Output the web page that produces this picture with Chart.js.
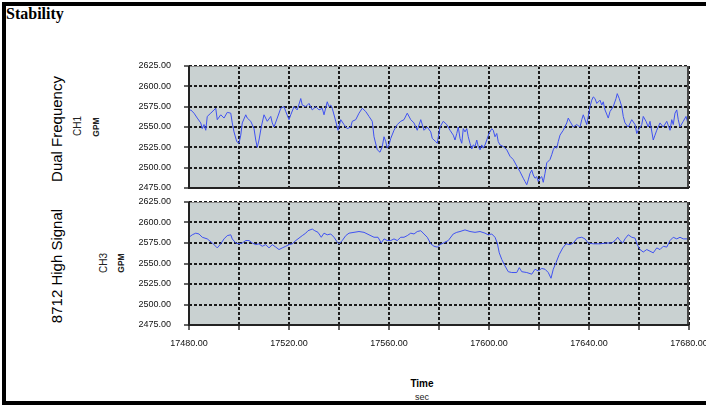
<!DOCTYPE html>
<html>
<head>
<meta charset="utf-8">
<title>Stability</title>
<script src="https://cdn.jsdelivr.net/npm/chart.js@4.4.0/dist/chart.umd.min.js"></script>
<style>
  html, body { margin: 0; padding: 0; background: #fff; overflow: hidden; }
  body { width: 706px; height: 405px; position: relative; font-family: "Liberation Sans", Arial, sans-serif; }
  #frame { position: absolute; left: 2px; top: 2px; width: 720px; height: 395px; border-left: 4px solid #000; border-top: 4px solid #000; border-bottom: 4px solid #000; }
  canvas { position: absolute; left: 0; }
  .lbl { position: absolute; white-space: nowrap; color: #000; }
  .rot { transform: translate(-50%, -50%) rotate(-90deg); }
  .ctr { transform: translate(-50%, -50%); }
</style>
</head>
<body>
<div id="frame"></div>
<div class="lbl" style="left:6px; top:5px; font-family:'Liberation Serif', serif; font-weight:bold; font-size:16px;">Stability</div>

<div class="lbl rot" style="left:56px; top:129px; font-size:15px;">Dual Frequency</div>
<div class="lbl rot" style="left:77px; top:126px; font-size:10px; color:#222;">CH1</div>
<div class="lbl rot" style="left:96px; top:127px; font-size:8.5px; font-weight:bold; color:#222;">GPM</div>

<div class="lbl rot" style="left:56px; top:266px; font-size:15px;">8712 High Signal</div>
<div class="lbl rot" style="left:103px; top:263px; font-size:10px; color:#222;">CH3</div>
<div class="lbl rot" style="left:121px; top:263px; font-size:8.5px; font-weight:bold; color:#222;">GPM</div>

<div class="lbl ctr" style="left:422px; top:383px; font-size:10px; font-weight:bold;">Time</div>
<div class="lbl ctr" style="left:422px; top:397px; font-size:9px; color:#222;">sec</div>

<canvas id="top" width="706" height="195" style="top:0px"></canvas>
<canvas id="bottom" width="706" height="175" style="top:195px"></canvas>

<script>
// time axis (sec)
var timeMin = 17480;
var timeMax = 17680;
var gpmMin = 2475;
var gpmMax = 2625;

// CH1 - Dual Frequency
var ch1Time = [
  17480, 17480.7, 17482, 17483.3, 17484.7, 17485.3, 17486, 17486.7, 17487.3, 17488.7,
  17490, 17490.7, 17491.3, 17492.7, 17494, 17495.3, 17496.7, 17497.3, 17498, 17499.1,
  17500, 17500.7, 17501.3, 17502.7, 17503.3, 17504.7, 17506, 17506.7, 17507.3, 17508,
  17508.9, 17510, 17511.3, 17512.7, 17513.3, 17514, 17515.3, 17516.7, 17518, 17518.7,
  17520, 17520.7, 17522, 17523.3, 17524.7, 17525.3, 17526.7, 17528, 17529.3, 17530.7,
  17532, 17533.3, 17534, 17535.3, 17536, 17536.7, 17537.3, 17538.7, 17539.6, 17540.7,
  17542, 17543.3, 17544.7, 17545.3, 17546.7, 17548, 17549.3, 17550.7, 17552, 17553.3,
  17554, 17555.3, 17556.4, 17557.3, 17558, 17558.7, 17559.3, 17560, 17560.7, 17562,
  17563.3, 17564.7, 17566, 17567.3, 17568.7, 17570, 17571.3, 17572.7, 17574, 17575.3,
  17576.7, 17577.3, 17578.7, 17579.3, 17580.4, 17581.7, 17583.1, 17584.4, 17585.7, 17586.4,
  17587.1, 17587.7, 17588.4, 17589.1, 17589.7, 17590.4, 17591.1, 17591.7, 17592.4, 17593.1,
  17593.7, 17594.4, 17595.1, 17595.7, 17596.4, 17597.1, 17597.7, 17598.4, 17599.1, 17600,
  17601.1, 17601.7, 17602.4, 17603.1, 17603.7, 17604.4, 17605.7, 17607.1, 17608.4, 17609.7,
  17611.1, 17612.4, 17613.7, 17614.4, 17615.1, 17615.7, 17616.4, 17617.1, 17617.7, 17618.4,
  17619.1, 17619.7, 17620.4, 17621.1, 17621.7, 17622.4, 17623.1, 17624.4, 17625.1, 17625.7,
  17626.4, 17627.1, 17627.7, 17628.4, 17629.7, 17631.1, 17631.7, 17632.4, 17633.7, 17635.1,
  17636.4, 17637.1, 17637.7, 17639.1, 17639.7, 17640.4, 17641.1, 17641.7, 17642.4, 17643.1,
  17644.4, 17645.1, 17645.7, 17646.4, 17647.7, 17648.4, 17649.7, 17650.8, 17651.3, 17652.1,
  17653.1, 17653.7, 17654.4, 17655.7, 17657.1, 17658.4, 17659.1, 17659.7, 17661.1, 17661.7,
  17662.8, 17663.7, 17664.4, 17665.7, 17666.4, 17667.1, 17668.4, 17669.7, 17671.1, 17672.4,
  17673.1, 17673.7, 17674.4, 17675.1, 17675.7, 17676.4, 17677.7, 17678.8, 17679.7
];
var ch1Gpm = [
  2569, 2571, 2567, 2561, 2555, 2548, 2553, 2546, 2563, 2567,
  2571, 2573, 2559, 2565, 2561, 2568, 2567, 2555, 2544, 2532,
  2530, 2540, 2555, 2565, 2561, 2557, 2548, 2534, 2525, 2534,
  2550, 2565, 2557, 2563, 2555, 2550, 2561, 2573, 2575, 2569,
  2559, 2565, 2575, 2571, 2585, 2577, 2575, 2579, 2571, 2575,
  2571, 2573, 2565, 2581, 2575, 2577, 2573, 2557, 2546, 2559,
  2553, 2548, 2550, 2557, 2559, 2567, 2573, 2569, 2563, 2557,
  2538, 2522, 2519, 2526, 2538, 2532, 2524, 2528, 2536, 2546,
  2553, 2557, 2559, 2567, 2559, 2555, 2546, 2559, 2546, 2550,
  2544, 2536, 2532, 2530, 2550, 2557, 2553, 2546, 2540, 2534,
  2542, 2550, 2536, 2530, 2548, 2544, 2548, 2538, 2530, 2523,
  2528, 2526, 2534, 2526, 2522, 2528, 2524, 2528, 2534, 2542,
  2548, 2546, 2538, 2542, 2532, 2528, 2526, 2522, 2514, 2510,
  2502, 2495, 2487, 2483, 2479, 2485, 2493, 2497, 2491, 2487,
  2489, 2483, 2487, 2489, 2482, 2493, 2506, 2510, 2516, 2522,
  2526, 2524, 2532, 2540, 2546, 2555, 2561, 2557, 2550, 2553,
  2550, 2559, 2565, 2553, 2563, 2575, 2583, 2587, 2585, 2579,
  2583, 2577, 2581, 2571, 2561, 2569, 2575, 2585, 2591, 2585,
  2575, 2563, 2555, 2550, 2559, 2553, 2542, 2546, 2553, 2563,
  2557, 2550, 2557, 2534, 2540, 2546, 2555, 2550, 2557, 2546,
  2559, 2553, 2567, 2571, 2559, 2550, 2557, 2563, 2553
];

// CH3 - 8712 High Signal
var ch3Time = [
  17480, 17481.3, 17482.7, 17484, 17485.3, 17487.3, 17489.3, 17490.7, 17491.3, 17492.7,
  17494, 17495.3, 17496.7, 17497.3, 17498.7, 17500, 17501.3, 17502.7, 17504, 17505.3,
  17506.7, 17508, 17509.3, 17510.7, 17512, 17513.3, 17514.7, 17516, 17517.3, 17518.7,
  17520, 17521.3, 17522.7, 17524, 17525.3, 17526.7, 17527.6, 17529.3, 17530.3, 17531.6,
  17532.9, 17534, 17535.3, 17536.7, 17538, 17539.1, 17540, 17541.3, 17542.7, 17544,
  17546, 17548, 17550, 17552, 17554, 17555.6, 17556.9, 17558, 17559.3, 17560.7,
  17562, 17563.3, 17564.7, 17566, 17567.3, 17568.7, 17570, 17571.3, 17572.7, 17574,
  17575.3, 17576.7, 17578, 17579.3, 17580.4, 17581.7, 17583.7, 17585.7, 17587.1, 17588.4,
  17590.4, 17592.4, 17594.4, 17596.4, 17598.4, 17599.7, 17601.1, 17602.4, 17603.3, 17604.1,
  17605.1, 17606.4, 17607.7, 17609.1, 17611.1, 17612.1, 17613.1, 17615.1, 17617.1, 17618.4,
  17619.7, 17621.1, 17622.4, 17623.7, 17624.8, 17625.7, 17626.8, 17628.1, 17629.5, 17630.8,
  17632.4, 17633.7, 17635.3, 17637.1, 17638.4, 17639.7, 17641.7, 17644.4, 17647.1, 17649.1,
  17650.4, 17651.5, 17652.4, 17653.5, 17654.4, 17655.7, 17657.1, 17658.4, 17659.3, 17660.4,
  17661.7, 17663.1, 17664.4, 17665.7, 17667.1, 17668.4, 17669.7, 17671.1, 17672.4, 17673.7,
  17675.1, 17676.4, 17677.7, 17679.7
];
var ch3Gpm = [
  2582, 2585, 2587, 2586, 2582, 2580, 2575, 2571, 2569, 2574,
  2580, 2584, 2585, 2580, 2575, 2574, 2575, 2578, 2578, 2575,
  2573, 2574, 2571, 2573, 2569, 2573, 2570, 2567, 2569, 2571,
  2573, 2574, 2578, 2581, 2584, 2587, 2590, 2592, 2590, 2588,
  2582, 2587, 2585, 2586, 2582, 2577, 2574, 2578, 2584, 2587,
  2588, 2589, 2588, 2585, 2582, 2582, 2575, 2580, 2578, 2578,
  2580, 2578, 2582, 2582, 2584, 2587, 2586, 2589, 2590, 2586,
  2582, 2574, 2571, 2570, 2573, 2575, 2578, 2586, 2588, 2589,
  2591, 2589, 2588, 2589, 2587, 2585, 2586, 2582, 2575, 2563,
  2555, 2547, 2540, 2539, 2539, 2545, 2540, 2539, 2537, 2543,
  2541, 2544, 2543, 2539, 2532, 2543, 2551, 2561, 2569, 2574,
  2573, 2575, 2581, 2582, 2580, 2575, 2574, 2574, 2575, 2575,
  2578, 2582, 2578, 2575, 2580, 2585, 2582, 2581, 2573, 2567,
  2564, 2567, 2565, 2563, 2569, 2567, 2571, 2570, 2578, 2582,
  2580, 2582, 2580, 2580
];

function toPoints(xs, ys) {
  return xs.map(function (x, i) { return { x: x, y: ys[i] }; });
}

var plotFrame = {
  id: 'plotFrame',
  beforeDraw: function (chart) {
    var a = chart.chartArea, ctx = chart.ctx;
    ctx.save();
    ctx.fillStyle = '#c9d1d1';
    ctx.fillRect(a.left, a.top, a.right - a.left, a.bottom - a.top);
    ctx.restore();
  },
  afterDraw: function (chart) {
    var a = chart.chartArea, ctx = chart.ctx;
    ctx.save();
    ctx.lineWidth = 1;
    ctx.strokeStyle = '#8a8a8a';
    ctx.beginPath();
    ctx.moveTo(a.left, a.top + 0.5);
    ctx.lineTo(a.right, a.top + 0.5);
    ctx.stroke();
    ctx.lineWidth = 2;
    ctx.strokeStyle = '#444';
    ctx.beginPath();
    ctx.moveTo(a.right - 1, a.top);
    ctx.lineTo(a.right - 1, a.bottom);
    ctx.stroke();
    ctx.strokeStyle = '#222';
    ctx.beginPath();
    ctx.moveTo(a.left, a.top);
    ctx.lineTo(a.left, a.bottom);
    ctx.lineTo(a.right, a.bottom);
    ctx.stroke();
    ctx.restore();
  }
};

function makeChart(id, times, values, showTimeLabels, padTop, padBottom) {
  var ctx = document.getElementById(id).getContext('2d');
  var config = {
    type: 'line',
    data: {
      datasets: [{
        data: toPoints(times, values),
        borderColor: '#4052f2',
        borderWidth: 1,
        pointRadius: 0,
        tension: 0,
        fill: false
      }]
    },
    options: {
      responsive: false,
      animation: false,
      devicePixelRatio: 1,
      layout: { padding: { left: 0, right: 17, top: padTop, bottom: padBottom } },
      plugins: { legend: { display: false }, tooltip: { enabled: false } },
      scales: {
        x: {
          type: 'linear',
          min: timeMin,
          max: timeMax,
          border: { display: false, dash: [3, 2] },
          grid: {
            color: '#1a1a1a',
            lineWidth: 2,
            borderDash: [3, 2],
            drawTicks: showTimeLabels,
            tickLength: 5,
            tickBorderDash: [],
            tickColor: '#333',
            tickWidth: 1.5
          },
          ticks: {
            display: showTimeLabels,
            stepSize: 20,
            maxRotation: 0,
            autoSkip: false,
            padding: 8,
            color: '#111',
            font: { family: 'Liberation Sans', size: 9 },
            callback: function (v) {
              return (v - timeMin) % 40 === 0 ? v.toFixed(2) : '';
            }
          },
          afterFit: function (scale) {
            scale.height = showTimeLabels ? 30 : 0;
            scale.paddingLeft = 0;
            scale.paddingRight = 0;
          }
        },
        y: {
          min: gpmMin,
          max: gpmMax,
          border: { display: false, dash: [3, 2] },
          grid: {
            color: '#1a1a1a',
            lineWidth: 2,
            borderDash: [3, 2],
            drawTicks: true,
            tickLength: 5,
            tickBorderDash: [],
            tickColor: '#333',
            tickWidth: 1.5
          },
          ticks: {
            stepSize: 25,
            padding: 13,
            color: '#111',
            font: { family: 'Liberation Sans', size: 9 },
            callback: function (v) { return v.toFixed(2); }
          },
          afterFit: function (scale) {
            scale.width = 189;
            scale.paddingTop = 0;
            scale.paddingBottom = 0;
          }
        }
      }
    },
    plugins: [plotFrame]
  };
  return new Chart(ctx, config);
}

makeChart('top', ch1Time, ch1Gpm, false, 66, 7);
makeChart('bottom', ch3Time, ch3Gpm, true, 7, 15);
</script>
</body>
</html>
